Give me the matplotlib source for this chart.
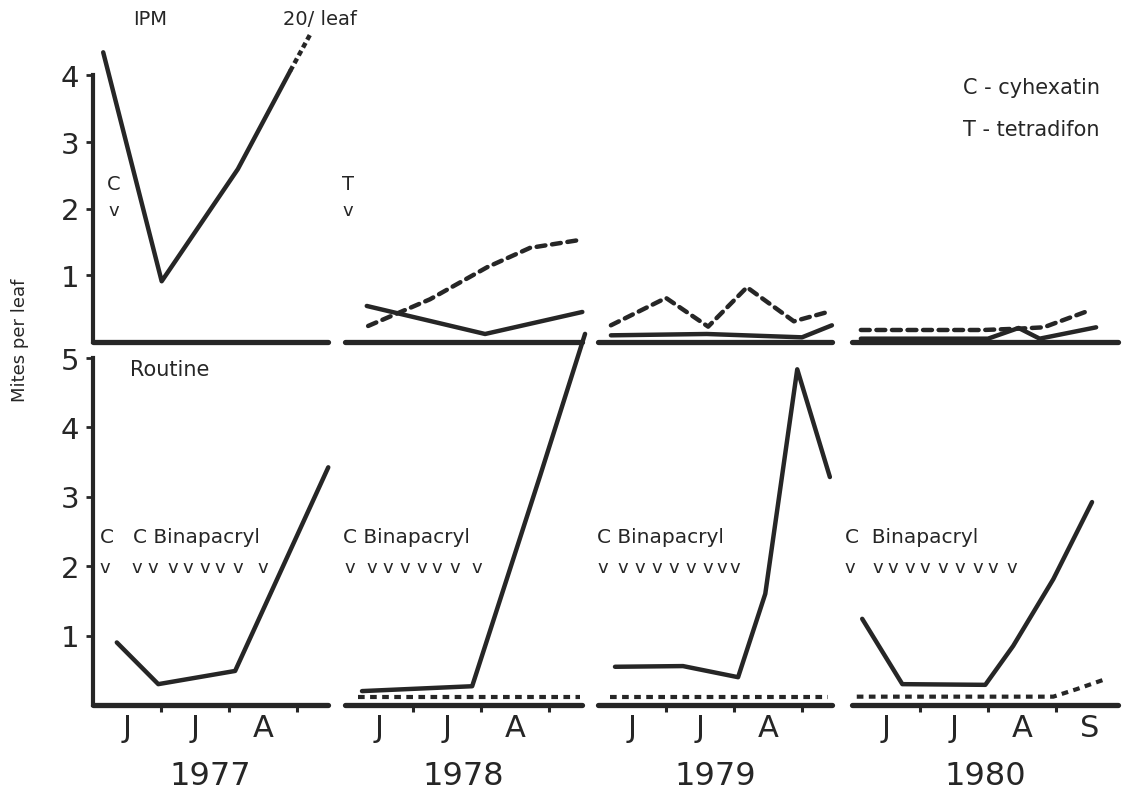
import matplotlib
matplotlib.use('Agg')
import matplotlib.pyplot as plt

plt.rcParams['font.family'] = ['DejaVu Sans']

INK = '#262626'

# ---------------- data (x = months after 1 June) ----------------
years = ['1977', '1978', '1979', '1980']
spans = [3.46, 3.49, 3.44, 3.91]
month_labels = [['J', 'J', 'A'], ['J', 'J', 'A'], ['J', 'J', 'A'], ['J', 'J', 'A', 'S']]
month_boundaries = [1, 2, 3]

# IPM (top row)
ipm_solid_x = [[0.15, 1.01, 2.13, 2.90], [0.32, 2.06, 3.49],
               [0.19, 1.60, 3.00, 3.44], [0.13, 2.00, 2.45, 2.76, 3.59]]
ipm_solid_y = [[4.34, 0.91, 2.59, 4.06], [0.54, 0.12, 0.45],
               [0.10, 0.12, 0.07, 0.25], [0.05, 0.05, 0.21, 0.05, 0.22]]
ipm_offscale_x = [2.90, 3.20]          # 1977 rise towards 20 / leaf
ipm_offscale_y = [4.06, 4.62]
ipm_dash_x = [[], [0.34, 1.25, 2.09, 2.72, 3.46],
              [0.19, 1.00, 1.62, 2.19, 2.88, 3.38], [0.13, 1.93, 2.45, 2.82, 3.51]]
ipm_dash_y = [[], [0.24, 0.64, 1.12, 1.41, 1.53],
              [0.25, 0.66, 0.23, 0.82, 0.31, 0.45], [0.18, 0.18, 0.20, 0.22, 0.48]]

# Routine (bottom row)
rout_solid_x = [[0.35, 0.96, 2.09, 3.46], [0.25, 1.87, 2.87, 3.53],
                [0.25, 1.25, 2.06, 2.46, 2.93, 3.41], [0.15, 0.74, 1.96, 2.37, 2.96, 3.53]]
rout_solid_y = [[0.90, 0.30, 0.49, 3.42], [0.20, 0.27, 3.30, 5.34],
                [0.55, 0.56, 0.40, 1.60, 4.83, 3.28], [1.24, 0.30, 0.29, 0.85, 1.81, 2.92]]
rout_dash_x = [[], [0.19, 3.46], [0.18, 3.38], [0.07, 2.96, 3.31, 3.72]]
rout_dash_y = [[], [0.12, 0.12], [0.12, 0.12], [0.12, 0.12, 0.23, 0.37]]

# spray applications
ipm_sprays_x = [[0.31], [0.04], [], []]
ipm_spray_labels = [['C'], ['T'], [], []]
rout_sprays_x = [[0.18, 0.65, 0.88, 1.18, 1.40, 1.65, 1.87, 2.13, 2.50],
                 [0.07, 0.40, 0.63, 0.88, 1.13, 1.35, 1.62, 1.94],
                 [0.07, 0.37, 0.62, 0.87, 1.12, 1.37, 1.62, 1.82, 2.01],
                 [-0.03, 0.38, 0.60, 0.85, 1.07, 1.34, 1.59, 1.85, 2.07, 2.35]]
rout_spray_text = [[(0.21, 'C', 'center'), (0.59, 'C Binapacryl', 'left')],
                   [(-0.03, 'C Binapacryl', 'left')],
                   [(-0.01, 'C Binapacryl', 'left')],
                   [(-0.10, 'C  Binapacryl', 'left')]]

# ---------------- layout ----------------
W, H = 1139, 803
starts_px = [93, 345, 598, 852]
px_per_month = 68
top_base, top_unit, top_ymax = 343, 66.75, 4.7
bot_base, bot_unit, bot_ymax = 706, 69.5, 5.2

fig = plt.figure(figsize=(W / 100, H / 100), dpi=100)
fig.patch.set_facecolor('white')

solid_kw = dict(color=INK, lw=3.2, solid_capstyle='round', solid_joinstyle='round', clip_on=False)
dash_kw = dict(color=INK, lw=3.2, linestyle=(0, (2.0, 1.5)), dash_capstyle='round', clip_on=False)
strip_kw = dict(color=INK, lw=3.0, linestyle=(0, (1.6, 1.3)), dash_capstyle='butt', clip_on=False)


def style_axis(ax, first, ytop):
    for s in ['top', 'right']:
        ax.spines[s].set_visible(False)
    ax.spines['bottom'].set_linewidth(3.8)
    ax.spines['bottom'].set_color(INK)
    ax.spines['bottom'].set_capstyle('round')
    if first:
        ax.spines['left'].set_linewidth(3.0)
        ax.spines['left'].set_color(INK)
        ax.spines['left'].set_bounds(0, ytop)
        ax.set_yticks(list(range(1, ytop + 1)))
        ax.tick_params(axis='y', direction='out', length=5, width=2, colors=INK,
                       labelsize=21, pad=5)
    else:
        ax.spines['left'].set_visible(False)
        ax.set_yticks([])
    ax.patch.set_alpha(0)


for i in range(4):
    left = starts_px[i] / W
    width = spans[i] * px_per_month / W

    # ---- IPM row ----
    ax = fig.add_axes([left, 1 - top_base / H, width, top_ymax * top_unit / H])
    ax.set_xlim(0, spans[i])
    ax.set_ylim(0, top_ymax)
    style_axis(ax, i == 0, 4)
    ax.set_xticks([])
    ax.plot(ipm_solid_x[i], ipm_solid_y[i], **solid_kw)
    if ipm_dash_x[i]:
        ax.plot(ipm_dash_x[i], ipm_dash_y[i], **dash_kw)
    if i == 0:
        ax.plot(ipm_offscale_x, ipm_offscale_y, color=INK, lw=3.2,
                linestyle=(0, (1.2, 0.8)), clip_on=False)
        ax.text(0.84, 4.84, 'IPM', fontsize=14, ha='center', va='center', color=INK)
        ax.text(3.34, 4.84, '20/ leaf', fontsize=14, ha='center', va='center', color=INK)
    for xs, lab in zip(ipm_sprays_x[i], ipm_spray_labels[i]):
        ax.text(xs, 2.38, lab, fontsize=14, ha='center', va='center', color=INK)
        ax.text(xs, 1.98, 'v', fontsize=13, ha='center', va='center', color=INK)

    # ---- Routine row ----
    bx = fig.add_axes([left, 1 - bot_base / H, width, bot_ymax * bot_unit / H])
    bx.set_xlim(0, spans[i])
    bx.set_ylim(0, bot_ymax)
    style_axis(bx, i == 0, 5)
    bx.set_xticks(month_boundaries)
    bx.set_xticklabels([])
    bx.tick_params(axis='x', which='major', direction='out', length=5, width=2.2, colors=INK)
    mpos = [k + 0.5 for k in range(len(month_labels[i]))]
    bx.set_xticks(mpos, minor=True)
    bx.set_xticklabels(month_labels[i], minor=True)
    bx.tick_params(axis='x', which='minor', length=0, labelsize=22, pad=6, colors=INK)
    bx.plot(rout_solid_x[i], rout_solid_y[i], **solid_kw)
    if rout_dash_x[i]:
        bx.plot(rout_dash_x[i], rout_dash_y[i], **strip_kw)
    for xs in rout_sprays_x[i]:
        bx.text(xs, 1.99, 'v', fontsize=13, ha='center', va='center', color=INK)
    for xt, txt, ha in rout_spray_text[i]:
        bx.text(xt, 2.42, txt, fontsize=14.5, ha=ha, va='center', color=INK)
    if i == 0:
        bx.text(0.54, 4.83, 'Routine', fontsize=15, ha='left', va='center', color=INK)
    bx.text(0.5, (bot_base - 777) / (bot_ymax * bot_unit), years[i], transform=bx.transAxes,
            fontsize=23, ha='center', va='center', color=INK)

fig.text(20 / W, 1 - 340 / H, 'Mites per leaf', rotation=90, fontsize=13,
         ha='center', va='center', color=INK)
fig.text(963 / W, 1 - 88 / H, 'C - cyhexatin', fontsize=15, ha='left', va='center', color=INK)
fig.text(963 / W, 1 - 130 / H, 'T - tetradifon', fontsize=15, ha='left', va='center', color=INK)

fig.savefig('out.png', dpi=100, facecolor='white')
